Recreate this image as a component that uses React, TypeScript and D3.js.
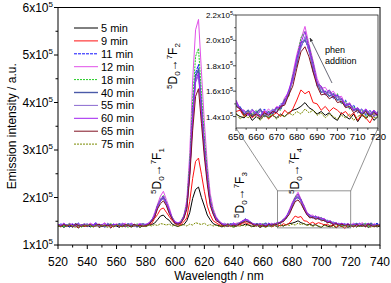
import React from "react";
import * as d3 from "d3";

// Emission spectra (values in units of 1e3 a.u.), sampled every 2 nm from 520 to 740 nm
const wavelengths = d3.range(520, 741, 2);

const seriesNames = ["5 min", "9 min", "11 min", "12 min", "18 min", "40 min", "55 min", "60 min", "65 min", "75 min"];
const seriesColors = ["#000000", "#ff1010", "#1010ff", "#e050e8", "#20cc20", "#4a5aa8", "#8a6ad0", "#a020f0", "#801020", "#7a8a00"];
const seriesDash = ["", "", "3,1", "", "2,1", "", "", "", "", "2,1"];
const seriesWidth = [1, 1, 1, 1, 1, 1.4, 1, 1, 1, 1];

const s5 = [139,142,137,141,138,143,140,136,141,139,142,138,140,144,137,140,139,142,136,141,140,137,143,139,141,138,140,142,137,141,139,142,143,146,153,161,163,156,152,144,141,139,142,143,151,168,198,217,222,200,182,163,153,145,142,141,138,141,139,142,138,140,143,141,144,142,140,139,142,137,140,138,141,139,141,139,142,140,143,145,146,148,151,147,145,142,144,141,143,139,137,143,140,138,142,136,141,139,142,137,140,143,138,141,139,142,137,140,141,138,140];
const s9 = [142,138,144,140,145,139,141,137,143,140,139,143,141,146,138,142,140,144,137,141,143,139,141,138,144,140,142,139,141,143,140,144,145,156,164,175,178,169,160,151,145,142,143,149,157,192,240,276,283,249,213,182,164,151,147,143,140,143,139,142,141,144,142,146,147,144,145,140,143,139,142,140,144,138,141,143,140,145,142,146,153,161,158,160,151,150,145,148,144,147,145,142,144,140,143,137,142,139,135,141,143,139,142,140,144,138,141,143,139,142,140];
const s11 = [141,145,139,143,138,144,142,146,140,143,144,139,142,147,140,143,138,145,141,144,140,144,142,139,146,141,143,140,145,142,144,146,150,165,180,196,203,190,175,156,149,144,150,158,183,261,378,462,480,397,310,245,194,170,157,148,145,141,144,142,146,141,147,149,155,150,148,142,145,140,144,141,146,142,145,143,150,150,160,168,186,195,201,192,181,164,163,157,160,154,157,150,153,146,149,143,146,141,145,140,144,141,146,139,143,145,140,144,142,146,141];
const s12 = [143,140,145,141,146,139,144,142,140,145,141,146,143,139,144,142,147,140,143,141,145,141,143,146,140,144,139,143,145,142,143,147,151,168,186,203,213,196,179,158,150,146,151,162,195,292,447,553,575,466,358,271,208,177,160,151,146,143,145,141,144,146,147,151,154,152,146,145,141,144,140,145,142,146,143,148,147,155,159,174,189,201,211,197,184,170,162,163,158,160,155,156,149,151,145,147,142,146,140,145,142,146,140,144,147,141,143,139,145,142,144];
const s18 = [140,143,138,142,145,139,141,144,137,142,143,140,138,145,141,139,143,140,146,138,142,139,144,141,137,143,140,145,139,142,140,145,149,162,184,196,205,190,174,155,148,143,149,161,187,270,403,497,514,420,328,255,196,172,155,150,143,140,145,141,139,144,146,148,153,149,147,141,144,142,145,140,143,139,144,146,145,154,156,172,185,202,207,195,183,166,164,157,161,155,158,150,152,146,148,143,145,140,144,141,143,139,145,140,142,146,138,143,141,144,140];
const s40 = [142,139,144,141,143,138,145,140,142,144,139,143,141,145,140,142,138,144,141,143,141,145,139,142,144,140,143,138,142,145,142,144,152,161,181,193,200,187,170,158,146,145,148,160,180,258,370,455,470,389,305,241,190,169,156,149,144,142,140,145,141,143,146,148,154,149,147,142,145,141,143,146,140,144,142,147,146,153,157,171,181,198,200,195,176,167,159,160,156,158,153,154,148,150,145,146,142,145,141,144,140,143,145,141,144,139,142,146,140,143,141];
const s55 = [140,144,142,139,145,141,143,146,139,142,145,141,143,139,144,142,140,146,142,139,143,141,146,140,142,144,139,143,141,145,141,146,149,163,177,194,197,188,168,157,149,143,150,156,181,251,364,442,457,380,298,238,187,168,153,150,143,146,141,144,142,140,147,150,152,151,145,145,142,146,141,144,142,140,146,144,149,150,160,168,184,194,203,191,179,165,162,157,159,155,156,151,151,147,147,143,146,142,145,140,144,142,139,145,141,143,146,140,144,141,143];
const s60 = [143,141,146,140,142,145,139,144,141,143,140,144,142,146,139,143,145,141,140,144,142,139,145,143,140,146,142,141,144,140,143,145,153,161,183,194,203,188,174,155,148,146,147,159,182,252,368,447,462,384,301,240,191,166,156,147,145,141,144,142,146,142,145,151,153,153,146,144,141,145,143,140,145,142,143,147,147,152,161,170,187,198,207,194,182,166,164,158,161,156,157,154,149,150,145,147,143,146,142,145,141,144,142,146,140,143,145,141,143,140,144];
const s65 = [141,139,143,140,142,138,144,141,139,142,140,143,138,141,144,139,142,140,143,138,142,140,139,143,141,138,144,140,142,139,141,143,150,158,176,187,193,183,166,155,145,144,146,156,175,243,341,413,429,356,285,228,183,165,151,148,142,140,143,139,142,140,145,147,150,148,146,141,143,140,142,139,143,141,144,143,148,149,157,164,178,191,195,187,175,164,157,158,154,156,151,152,147,148,143,145,141,144,140,143,141,138,143,140,142,139,144,141,138,142,140];
const s75 = [141,138,142,139,143,140,137,141,139,142,140,143,138,141,139,142,140,137,141,139,142,140,138,141,143,139,140,142,138,141,139,142,140,143,141,145,144,142,144,140,142,139,141,143,140,144,142,147,145,143,146,141,143,140,142,139,141,138,142,140,137,141,139,142,140,143,138,141,139,142,140,137,141,139,142,138,141,140,143,141,144,142,146,143,145,141,143,139,142,140,138,141,139,142,137,140,142,138,141,139,140,142,138,141,139,143,140,137,141,139,142];

const allSeries = [s5, s9, s11, s12, s18, s40, s55, s60, s65, s75];

const xTicksMain = d3.range(520, 741, 20);
const yTickMantissas = [1, 2, 3, 4, 5, 6];
const xTicksInset = [650, 660, 670, 680, 690, 700, 710, 720];
const yTicksInset = [140, 160, 180, 200, 220];
const yTickInsetLabels = ["1.4", "1.6", "1.8", "2.0", "2.2"];
const zoomBox = { x0: 670, x1: 720, y0: 136, y1: 214 };

const FONT = "'Liberation Sans', Arial, sans-serif";

function Trans({ cx, cy, lower }: { cx: number; cy: number; lower: string }) {
  return (
    <text transform={`translate(${cx},${cy}) rotate(-90)`} y={4} textAnchor="middle" fontSize={12} fontFamily={FONT} fill="#000">
      <tspan fontSize={8} dy={-5}>5</tspan>
      <tspan dy={5}>D</tspan>
      <tspan fontSize={8} dy={3}>0</tspan>
      <tspan dy={-3}>→</tspan>
      <tspan fontSize={8} dy={-5}>7</tspan>
      <tspan dy={5}>F</tspan>
      <tspan fontSize={8} dy={3}>{lower}</tspan>
    </text>
  );
}

export default function App() {
  const W = 391, H = 283;
  const M = { left: 58, right: 380, top: 7.5, bottom: 245 };
  const x = d3.scaleLinear().domain([520, 740]).range([M.left, M.right]);
  const y = d3.scaleLinear().domain([100, 600]).range([M.bottom, M.top]);
  const I = { left: 236, right: 378, top: 15, bottom: 128 };
  const xi = d3.scaleLinear().domain([650, 720]).range([I.left, I.right]);
  const yi = d3.scaleLinear().domain([131, 220]).range([I.bottom, I.top]);

  const lineMain = d3.line<number>().x((_, i) => x(wavelengths[i])).y((d) => y(d));
  const lineInset = d3.line<number>().x((_, i) => xi(wavelengths[i])).y((d) => yi(d));

  const xMinor = d3.range(530, 740, 20);
  const yMinor = [150, 250, 350, 450, 550];
  const xiMinor = [655, 665, 675, 685, 695, 705, 715];
  const yiMinor = [150, 170, 190, 210];

  const legendY0 = 28, legendDy = 12.9;

  return (
    <svg width={W} height={H} style={{ position: "absolute", left: 0, top: 0, background: "#fff" }} fontFamily={FONT}>
      <defs>
        <clipPath id="mainClip"><rect x={M.left} y={M.top} width={M.right - M.left} height={M.bottom - M.top} /></clipPath>
        <clipPath id="insetClip"><rect x={I.left} y={I.top} width={I.right - I.left} height={I.bottom - I.top} /></clipPath>
        <marker id="ah" viewBox="0 0 10 10" refX="9" refY="5" markerWidth="5" markerHeight="5" orient="auto">
          <path d="M0,1 L10,5 L0,9 z" fill="#333" />
        </marker>
      </defs>
      <rect width={W} height={H} fill="#fff" />

      {/* main data */}
      <g clipPath="url(#mainClip)">
        {allSeries.map((s, k) => (
          <path key={k} d={lineMain(s) || ""} fill="none" stroke={seriesColors[k]} strokeWidth={seriesWidth[k]} strokeDasharray={seriesDash[k]} strokeLinejoin="round" />
        ))}
      </g>

      {/* zoom box and connectors */}
      <rect x={x(zoomBox.x0)} y={y(zoomBox.y1)} width={x(zoomBox.x1) - x(zoomBox.x0)} height={y(zoomBox.y0) - y(zoomBox.y1)} fill="none" stroke="#777" strokeWidth={0.8} />
      <line x1={I.left} y1={I.bottom} x2={x(zoomBox.x0)} y2={y(zoomBox.y1)} stroke="#777" strokeWidth={0.8} />
      <line x1={I.right} y1={I.bottom} x2={x(zoomBox.x1)} y2={y(zoomBox.y1)} stroke="#777" strokeWidth={0.8} />

      {/* main frame */}
      <rect x={M.left} y={M.top} width={M.right - M.left} height={M.bottom - M.top} fill="none" stroke="#000" strokeWidth={1} />
      {xTicksMain.map((t) => (
        <g key={t}>
          <line x1={x(t)} x2={x(t)} y1={M.bottom} y2={M.bottom + 4} stroke="#000" />
          <text x={x(t)} y={M.bottom + 21} textAnchor="middle" fontSize={12}>{t}</text>
        </g>
      ))}
      {xMinor.map((t) => (
        <line key={t} x1={x(t)} x2={x(t)} y1={M.bottom} y2={M.bottom + 2.5} stroke="#000" />
      ))}
      {yTickMantissas.map((m) => (
        <g key={m}>
          <line x1={M.left - 4} x2={M.left} y1={y(m * 100)} y2={y(m * 100)} stroke="#000" />
          <text x={M.left - 5} y={y(m * 100) + 4} textAnchor="end" fontSize={12}>
            {m}x10<tspan fontSize={8} dy={-5}>5</tspan>
          </text>
        </g>
      ))}
      {yMinor.map((t) => (
        <line key={t} x1={M.left - 2.5} x2={M.left} y1={y(t)} y2={y(t)} stroke="#000" />
      ))}
      <text x={(M.left + M.right) / 2} y={280} textAnchor="middle" fontSize={12}>Wavelength / nm</text>
      <text transform={`translate(16,${(M.top + M.bottom) / 2}) rotate(-90)`} textAnchor="middle" fontSize={12}>Emission intensity / a.u.</text>

      {/* legend */}
      {seriesNames.map((n, k) => (
        <g key={n}>
          <line x1={74} x2={98} y1={legendY0 + k * legendDy} y2={legendY0 + k * legendDy} stroke={seriesColors[k]} strokeWidth={seriesWidth[k]} strokeDasharray={seriesDash[k]} />
          <text x={101} y={legendY0 + k * legendDy + 4} fontSize={11}>{n}</text>
        </g>
      ))}

      {/* transition labels */}
      <Trans cx={173} cy={66} lower="2" />
      <Trans cx={157} cy={171} lower="1" />
      <Trans cx={240} cy={195} lower="3" />
      <Trans cx={295} cy={171} lower="4" />

      {/* inset */}
      <rect x={I.left} y={I.top} width={I.right - I.left} height={I.bottom - I.top} fill="#fff" />
      <g clipPath="url(#insetClip)">
        {allSeries.map((s, k) => (
          <path key={k} d={lineInset(s) || ""} fill="none" stroke={seriesColors[k]} strokeWidth={seriesWidth[k]} strokeDasharray={seriesDash[k]} strokeLinejoin="round" />
        ))}
      </g>
      <rect x={I.left} y={I.top} width={I.right - I.left} height={I.bottom - I.top} fill="none" stroke="#222" strokeWidth={0.8} />
      {xTicksInset.map((t) => (
        <g key={t}>
          <line x1={xi(t)} x2={xi(t)} y1={I.bottom} y2={I.bottom + 3} stroke="#222" strokeWidth={0.8} />
          <text x={xi(t)} y={I.bottom + 12} textAnchor="middle" fontSize={9.5}>{t}</text>
        </g>
      ))}
      {xiMinor.map((t) => (
        <line key={t} x1={xi(t)} x2={xi(t)} y1={I.bottom} y2={I.bottom + 1.8} stroke="#222" strokeWidth={0.8} />
      ))}
      {yTicksInset.map((t, k) => (
        <g key={t}>
          <line x1={I.left - 3} x2={I.left} y1={yi(t)} y2={yi(t)} stroke="#222" strokeWidth={0.8} />
          <text x={I.left - 3} y={yi(t) + 3} textAnchor="end" fontSize={8}>
            {yTickInsetLabels[k]}x10<tspan fontSize={5.5} dy={-3.5}>5</tspan>
          </text>
        </g>
      ))}
      {yiMinor.map((t) => (
        <line key={t} x1={I.left - 1.8} x2={I.left} y1={yi(t)} y2={yi(t)} stroke="#222" strokeWidth={0.8} />
      ))}
      <line x1={332} y1={83} x2={310} y2={38} stroke="#445" strokeWidth={0.8} markerEnd="url(#ah)" />
      <text x={325} y={53} fontSize={9}>phen</text>
      <text x={325} y={64} fontSize={9}>addition</text>
    </svg>
  );
}
